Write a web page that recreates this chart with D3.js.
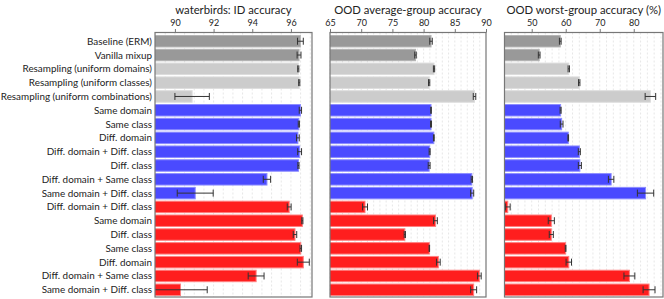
<!DOCTYPE html>
<html>
<head>
<meta charset="utf-8">
<script src="https://cdn.jsdelivr.net/npm/d3@7"></script>
<style>
  body { margin: 0; background: #fff; }
  svg text { font-family: Lato, "Noto Sans", sans-serif; fill: #222; }
</style>
</head>
<body>
<div id="chart"></div>
<script>
const labels = [
  'Baseline (ERM)', 'Vanilla mixup', 'Resampling (uniform domains)', 'Resampling (uniform classes)',
  'Resampling (uniform combinations)',
  'Same domain', 'Same class', 'Diff. domain', 'Diff. domain + Diff. class', 'Diff. class',
  'Diff. domain + Same class', 'Same domain + Diff. class',
  'Diff. domain + Diff. class', 'Same domain', 'Diff. class', 'Same class', 'Diff. domain',
  'Diff. domain + Same class', 'Same domain + Diff. class'
]
const groups = [ 'base', 'base', 'resample', 'resample', 'resample',
  'blue', 'blue', 'blue', 'blue', 'blue', 'blue', 'blue',
  'red', 'red', 'red', 'red', 'red', 'red', 'red' ]

const idAcc = [ 96.49, 96.42, 96.38, 96.43, 90.89, 96.49, 96.41, 96.36, 96.45, 96.39, 94.76, 91.05,
  95.91, 96.59, 96.21, 96.51, 96.64, 94.2, 90.29 ]
const idErr = [ 0.15, 0.1, 0.03, 0.03, 0.89, 0.06, 0.03, 0.07, 0.1, 0.03, 0.19, 0.93,
  0.1, 0.03, 0.09, 0.04, 0.31, 0.41, 1.38 ]

const avgAcc = [ 81.19, 78.7, 81.67, 80.89, 88.16, 81.19, 81.19, 81.64, 80.97, 80.89, 87.73, 87.78,
  70.61, 81.9, 76.99, 80.92, 82.36, 88.93, 88.02 ]
const avgErr = [ 0.2, 0.12, 0.1, 0.1, 0.2, 0.05, 0.08, 0.06, 0.08, 0.15, 0.1, 0.25,
  0.4, 0.3, 0.1, 0.04, 0.3, 0.3, 0.48 ]

const worstAcc = [ 58.4, 52.2, 60.9, 63.97, 84.9, 58.5, 58.8, 60.74, 64.0, 64.16, 73.35, 83.47,
  42.96, 55.76, 55.76, 59.97, 60.9, 78.72, 84.5 ]
const worstErr = [ 0.25, 0.25, 0.2, 0.2, 1.55, 0.15, 0.4, 0.1, 0.3, 0.45, 0.8, 2.4,
  0.7, 0.9, 0.6, 0.1, 0.8, 1.6, 1.75 ]

const panels = [
  { title: 'waterbirds: ID accuracy', values: idAcc, errs: idErr, domain: [ 88.97, 97.09 ],
    range: [ 155, 312 ], ticks: [ 90, 92, 94, 96 ], minor: 0.5 },
  { title: 'OOD average-group accuracy', values: avgAcc, errs: avgErr, domain: [ 65, 90 ],
    range: [ 330, 486 ], ticks: [ 65, 70, 75, 80, 85, 90 ], minor: 1 },
  { title: 'OOD worst-group accuracy (%)', values: worstAcc, errs: worstErr, domain: [ 42, 88.6 ],
    range: [ 504.5, 663 ], ticks: [ 50, 60, 70, 80 ], minor: 2 }
]

const colors = { base: '#999999', resample: '#cccccc', blue: '#4a4aff', red: '#ff1e1e' }
const edges = { base: '#b5b5b5', resample: '#dcdcdc', blue: '#8c8cff', red: '#ff8080' }

const width = 664
const height = 299
const plotTop = 32.5
const plotBottom = 297

const svg = d3.select('#chart').append('svg')
  .attr('width', width)
  .attr('height', height)

const y = d3.scaleBand()
  .domain(d3.range(labels.length))
  .range([ 35.5, 295.5 ])
  .paddingInner(0.17)

// row labels
svg.selectAll('.row-label')
  .data(labels)
  .enter().append('text')
  .attr('class', 'row-label')
  .attr('x', 152)
  .attr('y', (d, i) => y(i) + y.bandwidth() / 2)
  .attr('dy', '0.35em')
  .attr('text-anchor', 'end')
  .style('font-size', '9.9px')
  .text(d => d)

panels.forEach(function (p, pi) {
  const x = d3.scaleLinear().domain(p.domain).range(p.range)
  const g = svg.append('g')

  g.append('clipPath').attr('id', 'clip' + pi)
    .append('rect')
    .attr('x', p.range[0]).attr('y', plotTop)
    .attr('width', p.range[1] - p.range[0]).attr('height', plotBottom - plotTop)

  // minor dashed grid
  const first = Math.ceil(p.domain[0] / p.minor) * p.minor
  const grid = d3.range(first, p.domain[1], p.minor)
  g.selectAll('.grid')
    .data(grid)
    .enter().append('line')
    .attr('x1', d => x(d)).attr('x2', d => x(d))
    .attr('y1', plotTop).attr('y2', plotBottom)
    .attr('stroke', '#dcdcdc')
    .attr('stroke-width', 0.7)
    .attr('stroke-dasharray', '2,2')

  const inner = g.append('g').attr('clip-path', 'url(#clip' + pi + ')')

  inner.selectAll('.bar')
    .data(p.values)
    .enter().append('rect')
    .attr('x', x(p.domain[0]) - 2)
    .attr('y', (d, i) => y(i))
    .attr('width', d => x(d) - x(p.domain[0]) + 2)
    .attr('height', y.bandwidth())
    .attr('fill', (d, i) => colors[groups[i]])
    .attr('stroke', (d, i) => edges[groups[i]])
    .attr('stroke-width', 1)

  // error bars
  const err = inner.selectAll('.err')
    .data(p.values)
    .enter().append('g')
    .attr('stroke', '#333')
    .attr('stroke-width', 1)
  err.append('line')
    .attr('x1', (d, i) => x(d - p.errs[i])).attr('x2', (d, i) => x(d + p.errs[i]))
    .attr('y1', (d, i) => y(i) + y.bandwidth() / 2).attr('y2', (d, i) => y(i) + y.bandwidth() / 2)
  err.append('line')
    .attr('x1', (d, i) => x(d - p.errs[i])).attr('x2', (d, i) => x(d - p.errs[i]))
    .attr('y1', (d, i) => y(i) + y.bandwidth() / 2 - 3.5).attr('y2', (d, i) => y(i) + y.bandwidth() / 2 + 3.5)
  err.append('line')
    .attr('x1', (d, i) => x(d + p.errs[i])).attr('x2', (d, i) => x(d + p.errs[i]))
    .attr('y1', (d, i) => y(i) + y.bandwidth() / 2 - 3.5).attr('y2', (d, i) => y(i) + y.bandwidth() / 2 + 3.5)

  // frame
  g.append('rect')
    .attr('x', p.range[0]).attr('y', plotTop)
    .attr('width', p.range[1] - p.range[0]).attr('height', plotBottom - plotTop)
    .attr('fill', 'none')
    .attr('stroke', '#777')
    .attr('stroke-width', 1.2)

  // top axis
  const axis = g.append('g')
    .attr('transform', 'translate(0,' + plotTop + ')')
    .call(d3.axisTop(x).tickValues(p.ticks).tickSize(3.5).tickPadding(3.5).tickFormat(d3.format('d')))
  axis.select('.domain').remove()
  axis.selectAll('line').attr('stroke', '#777')
  axis.selectAll('text').style('font-size', '9px').attr('fill', '#222')

  g.append('text')
    .attr('x', (p.range[0] + p.range[1]) / 2)
    .attr('y', 14)
    .attr('text-anchor', 'middle')
    .style('font-size', '11.3px')
    .text(p.title)
})
</script>
</body>
</html>
